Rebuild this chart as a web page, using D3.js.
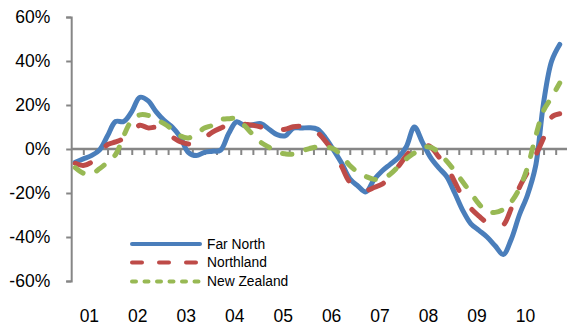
<!DOCTYPE html>
<html>
<head>
<meta charset="utf-8">
<script src="https://cdn.jsdelivr.net/npm/d3@7/dist/d3.min.js"></script>
<style>
  html, body { margin: 0; padding: 0; background: #fff; }
  svg { display: block; font-family: "Liberation Sans", Arial, Helvetica, sans-serif; }
</style>
</head>
<body>
<svg id="chart" width="567" height="334"></svg>
<script>
// Month index along the category axis (sampled every second month)
const months = [1, 3, 5, 7, 9, 11, 13, 15, 17, 19, 21, 23, 25, 27, 29, 31, 33, 35, 37, 39,
  41, 43, 45, 47, 49, 51, 53, 55, 57, 59, 61, 63, 65, 67, 69, 71, 73, 75, 77, 79,
  81, 83, 85, 87, 89, 91, 93, 95, 97, 99, 101, 103, 105, 107, 109, 111, 113, 115, 117, 119, 121];

// Annual % change
const farNorth = [-6, -4.5, -3, -0.5, 6, 12.5, 12.5, 17, 23.5, 22, 17, 13, 10, 5.5, -1.5, -3, -1.5, -1, -0.5, 7,
  12.4, 10.5, 11, 11.5, 9, 6.5, 6, 9.5, 9.5, 9.7, 9, 5, -0.5, -6.5, -13.5, -16.8, -19.5, -14, -10, -7,
  -4, 1, 10, 3, -3.8, -8.5, -12.5, -20, -28, -34, -37, -40, -44, -48, -41, -30, -21, -8, 21, 40, 47.5];

const northland = [-6.5, -7.5, -6, -2, 2, 3.2, 4.8, 7.5, 10.8, 9.6, 9.8, 8, 5.5, 3.3, 2.3, 2.5, 5, 7.7, 9.5, 11,
  11.8, 11.3, 10.8, 10, 9, 8.5, 9, 10.1, 10.3, 10, 7.5, 3.5, -1.5, -8, -15, -17, -18.8, -17.5, -16, -12.5,
  -8, -3, 1, 1.8, 1, -3.5, -8, -15, -22, -27, -30.5, -33.5, -35, -34.5, -27, -17.5, -10.5, -3, 5, 14.5, 16];

const newZealand = [-8.5, -11, -11.3, -9, -6, -2.5, 6, 13, 15.5, 15.3, 13.5, 11.5, 9, 6, 5, 7, 9.5, 10.8, 13.3, 13.8,
  13.8, 10.5, 6.5, 3, 0.8, -1.5, -2.2, -2.3, -1, 0.2, 1, 1, 0, -3, -7.5, -10.5, -12.5, -13.8, -13.5, -11.5,
  -8, -4.5, -1.8, 0.8, 0.8, -1.5, -5.5, -10, -15, -20, -25, -28.5, -28.8, -27.5, -24, -18, -8.5, 5.5, 17.5, 23.5, 30];

const yearLabels = ["01", "02", "03", "04", "05", "06", "07", "08", "09", "10"];
const yearLabelMonth = [4.5, 16.5, 28.5, 40.5, 52.5, 64.5, 76.5, 88.5, 100.5, 112.5];
const yTicks = [-60, -40, -20, 0, 20, 40, 60];

const seriesNames = ["Far North", "Northland", "New Zealand"];
const seriesValues = [farNorth, northland, newZealand];
const seriesColors = ["#4a7ebb", "#be4b48", "#98b954"];
const seriesDash = [null, "16,23", "9.5,14.5"];
const legendDash = [null, "10,17", "4,8.5"];

const svg = d3.select("#chart");

const x = d3.scaleLinear().domain([0, 123]).range([71.2, 567.8]);
const y = d3.scaleLinear().domain([-60, 60]).range([281, 17]);

const axisColor = "#868686";

// Y axis
const yAxis = d3.axisLeft(y)
  .tickValues(yTicks)
  .tickSize(5)
  .tickPadding(16)
  .tickFormat(d => d + "%");
const gy = svg.append("g").attr("transform", `translate(${x(0)},0)`).call(yAxis);
gy.select(".domain").attr("stroke", axisColor).attr("stroke-width", 2);
gy.selectAll(".tick line").attr("stroke", axisColor).attr("stroke-width", 2);
gy.selectAll(".tick text")
  .attr("fill", "#000")
  .style("font-size", "17.5px")
  .style("font-family", "'Liberation Sans', Arial, sans-serif");

// X axis along the 0% line, quarterly tick marks
const quarterTicks = d3.range(3, 121, 3);
const xAxis = d3.axisBottom(x)
  .tickValues(quarterTicks)
  .tickSize(6)
  .tickFormat("");
const gx = svg.append("g").attr("transform", `translate(0,${y(0)})`).call(xAxis);
gx.select(".domain").attr("stroke", axisColor).attr("stroke-width", 2.5).attr("d", `M${x(0)},0H${x(123)}`);
gx.selectAll(".tick line").attr("stroke", axisColor).attr("stroke-width", 2);

// Year labels below the plot
svg.append("g").selectAll("text")
  .data(yearLabels)
  .join("text")
  .attr("x", (d, i) => x(yearLabelMonth[i]))
  .attr("y", 322)
  .attr("text-anchor", "middle")
  .style("font-size", "17.5px")
  .attr("fill", "#000")
  .text(d => d);

// Smoothed series lines
const line = d3.line()
  .x(d => x(d[0]))
  .y(d => y(d[1]))
  .curve(d3.curveCatmullRom.alpha(0.5));

seriesValues.forEach((vals, i) => {
  svg.append("path")
    .datum(months.map((m, j) => [m, vals[j]]))
    .attr("d", line)
    .attr("fill", "none")
    .attr("stroke", seriesColors[i])
    .attr("stroke-width", 5)
    .attr("stroke-linecap", "round")
    .attr("stroke-linejoin", "round")
    .attr("stroke-dasharray", seriesDash[i]);
});

// Legend
const legend = svg.append("g");
const legendY = [244, 262.5, 281.5];
seriesNames.forEach((name, i) => {
  legend.append("line")
    .attr("x1", 132).attr("x2", 200)
    .attr("y1", legendY[i]).attr("y2", legendY[i])
    .attr("stroke", seriesColors[i])
    .attr("stroke-width", 4)
    .attr("stroke-linecap", "round")
    .attr("stroke-dasharray", legendDash[i]);
  legend.append("text")
    .attr("x", 207)
    .attr("y", legendY[i])
    .attr("dy", "0.35em")
    .style("font-size", "13.8px")
    .attr("fill", "#000")
    .text(name);
});
</script>
</body>
</html>
